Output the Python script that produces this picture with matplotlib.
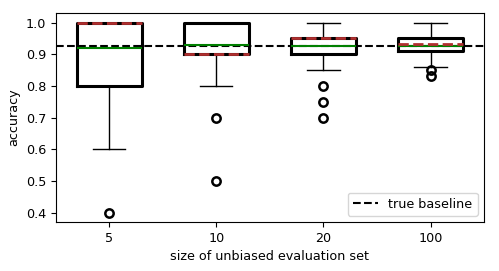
import matplotlib
matplotlib.use("Agg")
import matplotlib.pyplot as plt

plt.rcParams["font.size"] = 9.2

# evaluation set sizes and box statistics
sizes = ["5", "10", "20", "100"]
q1 = [0.80, 0.90, 0.90, 0.91]
q3 = [1.00, 1.00, 0.95, 0.95]
medians = [0.92, 0.93, 0.925, 0.927]
means = [1.00, 0.90, 0.95, 0.933]
whislo = [0.60, 0.80, 0.85, 0.86]
whishi = [1.00, 1.00, 1.00, 1.00]
fliers = [[0.40], [0.70, 0.50], [0.80, 0.75, 0.70], [0.85, 0.83]]
baseline = 0.927

stats = []
for i in range(len(sizes)):
    stats.append(dict(label=sizes[i], q1=q1[i], q3=q3[i], med=medians[i],
                      mean=means[i], whislo=whislo[i], whishi=whishi[i],
                      fliers=fliers[i]))

fig, ax = plt.subplots(figsize=(4.99, 2.71), dpi=100)

ax.bxp(stats, widths=0.6, showmeans=True, meanline=True,
       boxprops=dict(color="black", linewidth=2.2),
       whiskerprops=dict(color="black", linewidth=1.0),
       capprops=dict(color="black", linewidth=1.0),
       medianprops=dict(color="green", linewidth=1.5),
       meanprops=dict(color="#b03030", linestyle="--", linewidth=2.0),
       flierprops=dict(marker="o", markerfacecolor="none",
                       markeredgecolor="black", markeredgewidth=1.8,
                       markersize=6))

ax.axhline(baseline, color="black", linestyle="--", linewidth=1.5,
           label="true baseline")

ax.set_xlabel("size of unbiased evaluation set")
ax.set_ylabel("accuracy")
ax.legend(loc="lower right")

plt.subplots_adjust(left=0.112, right=0.97, top=0.952, bottom=0.18)
plt.savefig("out.png")
